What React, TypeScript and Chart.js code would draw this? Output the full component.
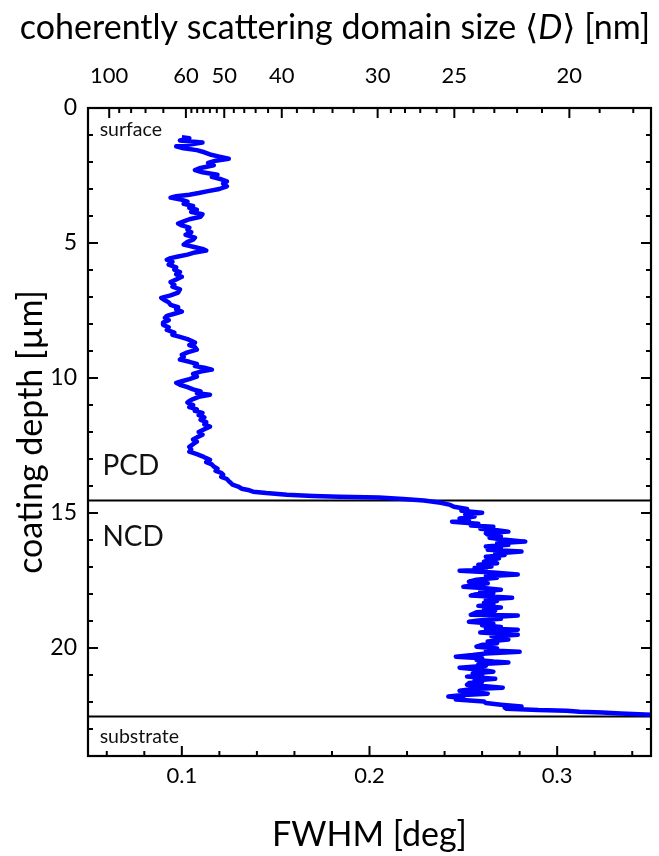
import React, { useEffect, useRef } from "react";
import { Chart, registerables } from "chart.js";

Chart.register(...registerables);

// ---- data ----
const depthUm = [
  1.08, 1.12, 1.2, 1.28, 1.34, 1.42, 1.48, 1.56, 1.64, 1.72, 1.8, 1.88, 1.95, 2.03, 2.12, 2.22, 2.3, 2.38, 2.47, 2.55,
  2.64, 2.72, 2.8, 2.9, 3.0, 3.08, 3.15, 3.21, 3.27, 3.32, 3.4, 3.47, 3.55, 3.63, 3.7, 3.77, 3.85, 3.93, 4.03, 4.12,
  4.2, 4.28, 4.35, 4.43, 4.51, 4.6, 4.7, 4.8, 4.88, 4.96, 5.06, 5.14, 5.22, 5.28, 5.35, 5.43, 5.5, 5.56, 5.62, 5.7,
  5.8, 5.9, 5.99, 6.08, 6.16, 6.25, 6.35, 6.45, 6.55, 6.62, 6.72, 6.84, 6.94, 7.03, 7.12, 7.2, 7.29, 7.38, 7.46, 7.54,
  7.62, 7.7, 7.77, 7.86, 7.95, 8.03, 8.12, 8.22, 8.32, 8.4, 8.48, 8.56, 8.62, 8.69, 8.78, 8.86, 8.95, 9.05, 9.14, 9.22,
  9.32, 9.4, 9.48, 9.56, 9.62, 9.69, 9.76, 9.85, 9.95, 10.04, 10.12, 10.18, 10.25, 10.34, 10.42, 10.5, 10.56, 10.62, 10.7, 10.78,
  10.85, 10.91, 11.0, 11.08, 11.16, 11.22, 11.29, 11.38, 11.46, 11.55, 11.63, 11.72, 11.8, 11.9, 12.0, 12.1, 12.2, 12.28, 12.36, 12.45,
  12.55, 12.65, 12.73, 12.82, 12.9, 12.97, 13.03, 13.12, 13.2, 13.28, 13.36, 13.44, 13.51, 13.58, 13.66, 13.74, 13.82, 13.88, 13.95, 14.02,
  14.1, 14.16, 14.21, 14.26, 14.32, 14.37, 14.4, 14.43, 14.48, 14.54,
  14.62, 14.7, 14.77, 14.85, 14.92, 14.99, 15.06, 15.13, 15.2, 15.27, 15.32, 15.4, 15.46, 15.51, 15.58, 15.64, 15.69, 15.75, 15.8, 15.86,
  15.92, 15.98, 16.06, 16.12, 16.18, 16.24, 16.3, 16.36, 16.43, 16.5, 16.56, 16.62, 16.68, 16.74, 16.8, 16.86, 16.92, 16.98, 17.04, 17.1,
  17.14, 17.2, 17.28, 17.34, 17.4, 17.47, 17.54, 17.6, 17.67, 17.73, 17.79, 17.84, 17.9, 17.96, 18.02, 18.06, 18.14, 18.2, 18.26, 18.32,
  18.38, 18.44, 18.5, 18.56, 18.62, 18.68, 18.77, 18.8, 18.86, 18.92, 18.98, 19.03, 19.1, 19.16, 19.22, 19.28, 19.32, 19.38, 19.43, 19.51,
  19.57, 19.63, 19.69, 19.76, 19.82, 19.88, 19.95, 20.02, 20.08, 20.14, 20.2, 20.26, 20.32, 20.38, 20.44, 20.5, 20.54, 20.6, 20.66, 20.73,
  20.8, 20.88, 20.94, 21.0, 21.06, 21.14, 21.2, 21.26, 21.3, 21.36, 21.42, 21.47, 21.52, 21.58, 21.64, 21.69, 21.74, 21.8, 21.86, 21.91,
  21.98, 22.04, 22.1, 22.17, 22.21, 22.25, 22.3, 22.32, 22.36, 22.39, 22.43, 22.47,
];

const fwhmDeg = [
  0.1, 0.104, 0.099, 0.111, 0.105, 0.097, 0.1, 0.108, 0.112, 0.115, 0.12, 0.125, 0.118, 0.114, 0.117, 0.11, 0.107, 0.111, 0.119, 0.116,
  0.121, 0.124, 0.122, 0.124, 0.12, 0.114, 0.109, 0.104, 0.097, 0.094, 0.1, 0.103, 0.101, 0.106, 0.104, 0.108, 0.105, 0.111, 0.11, 0.104,
  0.101, 0.098, 0.1, 0.104, 0.103, 0.105, 0.102, 0.107, 0.106, 0.103, 0.101, 0.106, 0.111, 0.113, 0.107, 0.103, 0.098, 0.094, 0.092, 0.095,
  0.093, 0.097, 0.096, 0.099, 0.097, 0.1, 0.097, 0.094, 0.096, 0.095, 0.099, 0.098, 0.094, 0.089, 0.091, 0.093, 0.094, 0.098, 0.097, 0.1,
  0.096, 0.092, 0.091, 0.093, 0.09, 0.09, 0.093, 0.092, 0.096, 0.095, 0.099, 0.103, 0.105, 0.107, 0.104, 0.107, 0.108, 0.103, 0.1, 0.101,
  0.099, 0.104, 0.108, 0.107, 0.112, 0.116, 0.11, 0.106, 0.108, 0.104, 0.1, 0.097, 0.099, 0.103, 0.106, 0.11, 0.108, 0.115, 0.109, 0.106,
  0.104, 0.103, 0.106, 0.104, 0.108, 0.107, 0.111, 0.109, 0.112, 0.11, 0.113, 0.112, 0.115, 0.112, 0.109, 0.111, 0.108, 0.106, 0.108, 0.106,
  0.104, 0.105, 0.104, 0.108, 0.111, 0.113, 0.115, 0.113, 0.116, 0.117, 0.119, 0.118, 0.121, 0.122, 0.121, 0.124, 0.125, 0.126, 0.127, 0.13,
  0.132, 0.136, 0.138, 0.145, 0.156, 0.17, 0.184, 0.205, 0.218, 0.229,
  0.238, 0.243, 0.245, 0.252, 0.249, 0.26, 0.251, 0.256, 0.248, 0.253, 0.244, 0.258, 0.254, 0.266, 0.259, 0.268, 0.274, 0.262, 0.263, 0.27,
  0.264, 0.271, 0.283, 0.268, 0.274, 0.262, 0.27, 0.263, 0.281, 0.267, 0.272, 0.262, 0.269, 0.264, 0.261, 0.268, 0.258, 0.265, 0.256, 0.262,
  0.248, 0.266, 0.279, 0.262, 0.268, 0.257, 0.253, 0.263, 0.256, 0.25, 0.262, 0.27, 0.259, 0.266, 0.256, 0.254, 0.276, 0.262, 0.268, 0.261,
  0.266, 0.258, 0.27, 0.261, 0.267, 0.257, 0.254, 0.279, 0.264, 0.27, 0.258, 0.253, 0.266, 0.26, 0.27, 0.262, 0.279, 0.266, 0.259, 0.279,
  0.265, 0.27, 0.274, 0.263, 0.268, 0.26, 0.257, 0.268, 0.262, 0.28, 0.262, 0.255, 0.246, 0.26, 0.257, 0.266, 0.274, 0.258, 0.262, 0.248,
  0.258, 0.266, 0.255, 0.26, 0.252, 0.267, 0.256, 0.26, 0.253, 0.252, 0.262, 0.271, 0.255, 0.248, 0.256, 0.263, 0.25, 0.242, 0.25, 0.246,
  0.261, 0.262, 0.27, 0.281, 0.272, 0.273, 0.29, 0.305, 0.312, 0.324, 0.334, 0.35,
];

// axis tick values
const xMajorTicks = [0.1, 0.2, 0.3];
const xMinorTicks = [0.06, 0.08, 0.12, 0.14, 0.16, 0.18, 0.22, 0.24, 0.26, 0.28, 0.32, 0.34];
const yMajorTicks = [0, 5, 10, 15, 20];
const yMinorTicks = [1, 2, 3, 4, 6, 7, 8, 9, 11, 12, 13, 14, 16, 17, 18, 19, 21, 22, 23];
const topMajorD = [100, 60, 50, 40, 30, 25, 20];
const topMinorD = [92, 84, 76, 68, 58.33, 56.67, 55, 53.33, 51.67, 48, 46, 44, 42, 38, 36, 34, 32, 29, 28, 27, 26, 24, 23, 22, 21, 19, 18];
const sizeConstant = 6.13; // <D> [nm] = sizeConstant / FWHM [deg]

// layer boundaries and region labels
const layerBoundaries = [14.5, 22.5];
const regionLabels = ["surface", "PCD", "NCD", "substrate"];
const regionLabelDepth = [0.8, 13.25, 15.9, 23.3];
const regionLabelFwhm = [0.0562, 0.0577, 0.0577, 0.0562];
const regionLabelSize = [19.5, 28, 28, 19.5];

const FONT = "Lato, 'DejaVu Sans', sans-serif";

const decorPlugin = {
  id: "decor",
  beforeDatasetsDraw(chart: any) {
    const { ctx, chartArea: a, scales } = chart;
    const y = scales.y;
    ctx.save();
    ctx.strokeStyle = "#000";
    ctx.lineWidth = 2;
    layerBoundaries.forEach((d) => {
      const py = Math.round(y.getPixelForValue(d)) + 0.5;
      ctx.beginPath();
      ctx.moveTo(a.left, py);
      ctx.lineTo(a.right, py);
      ctx.stroke();
    });
    ctx.fillStyle = "#111";
    ctx.textBaseline = "middle";
    ctx.textAlign = "left";
    regionLabels.forEach((t, i) => {
      ctx.font = `${regionLabelSize[i]}px ${FONT}`;
      ctx.fillText(t, scales.x.getPixelForValue(regionLabelFwhm[i]), y.getPixelForValue(regionLabelDepth[i]));
    });
    ctx.restore();
  },
  afterDraw(chart: any) {
    const { ctx, chartArea: a, scales } = chart;
    const x = scales.x;
    const y = scales.y;
    ctx.save();
    ctx.strokeStyle = "#000";
    ctx.lineWidth = 2;
    const tick = (x1: number, y1: number, x2: number, y2: number) => {
      ctx.beginPath();
      ctx.moveTo(x1, y1);
      ctx.lineTo(x2, y2);
      ctx.stroke();
    };
    const MAJ = 10;
    const MIN = 5;
    xMajorTicks.forEach((v) => {
      const p = x.getPixelForValue(v);
      tick(p, a.bottom, p, a.bottom - MAJ);
    });
    xMinorTicks.forEach((v) => {
      const p = x.getPixelForValue(v);
      tick(p, a.bottom, p, a.bottom - MIN);
    });
    topMajorD.forEach((d) => {
      const p = x.getPixelForValue(sizeConstant / d);
      tick(p, a.top, p, a.top + MAJ);
    });
    topMinorD.forEach((d) => {
      const p = x.getPixelForValue(sizeConstant / d);
      tick(p, a.top, p, a.top + MIN);
    });
    yMajorTicks.forEach((v) => {
      const p = y.getPixelForValue(v);
      tick(a.left, p, a.left + MAJ, p);
      tick(a.right, p, a.right - MAJ, p);
    });
    yMinorTicks.forEach((v) => {
      const p = y.getPixelForValue(v);
      tick(a.left, p, a.left + MIN, p);
      tick(a.right, p, a.right - MIN, p);
    });
    ctx.lineWidth = 2.2;
    ctx.strokeRect(a.left, a.top, a.right - a.left, a.bottom - a.top);

    // top title with italic D
    const size = 34;
    const parts: [string, string][] = [
      ["coherently scattering domain size ", "normal"],
      ["\u27E8", "normal"],
      ["D", "italic"],
      ["\u27E9", "normal"],
      [" [nm]", "normal"],
    ];
    const widths = parts.map(([t, s]) => {
      ctx.font = `${s} ${size}px ${FONT}`;
      return ctx.measureText(t).width;
    });
    const total = widths.reduce((s, w) => s + w, 0);
    let cx = 335 - total / 2;
    ctx.fillStyle = "#000";
    ctx.textBaseline = "middle";
    ctx.textAlign = "left";
    parts.forEach(([t, s], i) => {
      ctx.font = `${s} ${size}px ${FONT}`;
      ctx.fillText(t, cx, 28);
      cx += widths[i];
    });
    ctx.restore();
  },
};

export default function App() {
  const ref = useRef<HTMLCanvasElement | null>(null);
  useEffect(() => {
    document.body.style.margin = "0";
    const canvas = ref.current;
    if (!canvas) return;
    const points = depthUm.map((d, i) => ({ x: fwhmDeg[i], y: d }));
    const chart = new Chart(canvas, {
      type: "scatter",
      data: {
        datasets: [
          {
            data: points,
            showLine: true,
            borderColor: "#0000ff",
            backgroundColor: "#0000ff",
            borderWidth: 4.5,
            pointRadius: 0,
            tension: 0,
            borderJoinStyle: "round",
          } as any,
        ],
      },
      options: {
        animation: false,
        responsive: false,
        devicePixelRatio: 1,
        layout: { padding: { right: 8, left: 0, top: 0, bottom: 0 } },
        plugins: { legend: { display: false }, tooltip: { enabled: false } },
        scales: {
          x: {
            type: "linear",
            position: "bottom",
            min: 0.05,
            max: 0.35,
            grid: { display: false, drawTicks: false },
            border: { display: false },
            afterBuildTicks: (s: any) => {
              s.ticks = xMajorTicks.map((v) => ({ value: v }));
            },
            afterFit: (s: any) => {
              s.height = 100;
            },
            ticks: {
              autoSkip: false,
              maxRotation: 0,
              padding: 7,
              color: "#000",
              font: { family: FONT, size: 22 },
              callback: (v: any) => Number(v).toFixed(1),
            },
            title: {
              display: true,
              text: "FWHM [deg]",
              color: "#000",
              font: { family: FONT, size: 34 },
              padding: { top: 0, bottom: 1 },
            },
          },
          xTop: {
            type: "linear",
            position: "top",
            min: 0.05,
            max: 0.35,
            grid: { display: false, drawTicks: false },
            border: { display: false },
            afterBuildTicks: (s: any) => {
              s.ticks = topMajorD.map((d) => ({ value: sizeConstant / d }));
            },
            afterFit: (s: any) => {
              s.height = 108;
            },
            ticks: {
              autoSkip: false,
              maxRotation: 0,
              padding: 19,
              color: "#000",
              font: { family: FONT, size: 22 },
              callback: (v: any) => String(Math.round(sizeConstant / Number(v))),
            },
          },
          y: {
            type: "linear",
            position: "left",
            reverse: true,
            min: 0,
            max: 24,
            grid: { display: false, drawTicks: false },
            border: { display: false },
            afterBuildTicks: (s: any) => {
              s.ticks = yMajorTicks.map((v) => ({ value: v }));
            },
            afterFit: (s: any) => {
              s.width = 88;
            },
            ticks: {
              autoSkip: false,
              padding: 11,
              color: "#000",
              font: { family: FONT, size: 23 },
            },
            title: {
              display: true,
              text: "coating depth [\u00B5m]",
              color: "#000",
              font: { family: FONT, size: 34 },
              padding: { top: 11, bottom: 0 },
            },
          },
        },
      } as any,
      plugins: [decorPlugin],
    });
    return () => chart.destroy();
  }, []);
  return (
    <div style={{ width: 659, height: 856, background: "#fff" }}>
      <canvas ref={ref} width={659} height={856} style={{ display: "block", width: 659, height: 856 }} />
    </div>
  );
}
